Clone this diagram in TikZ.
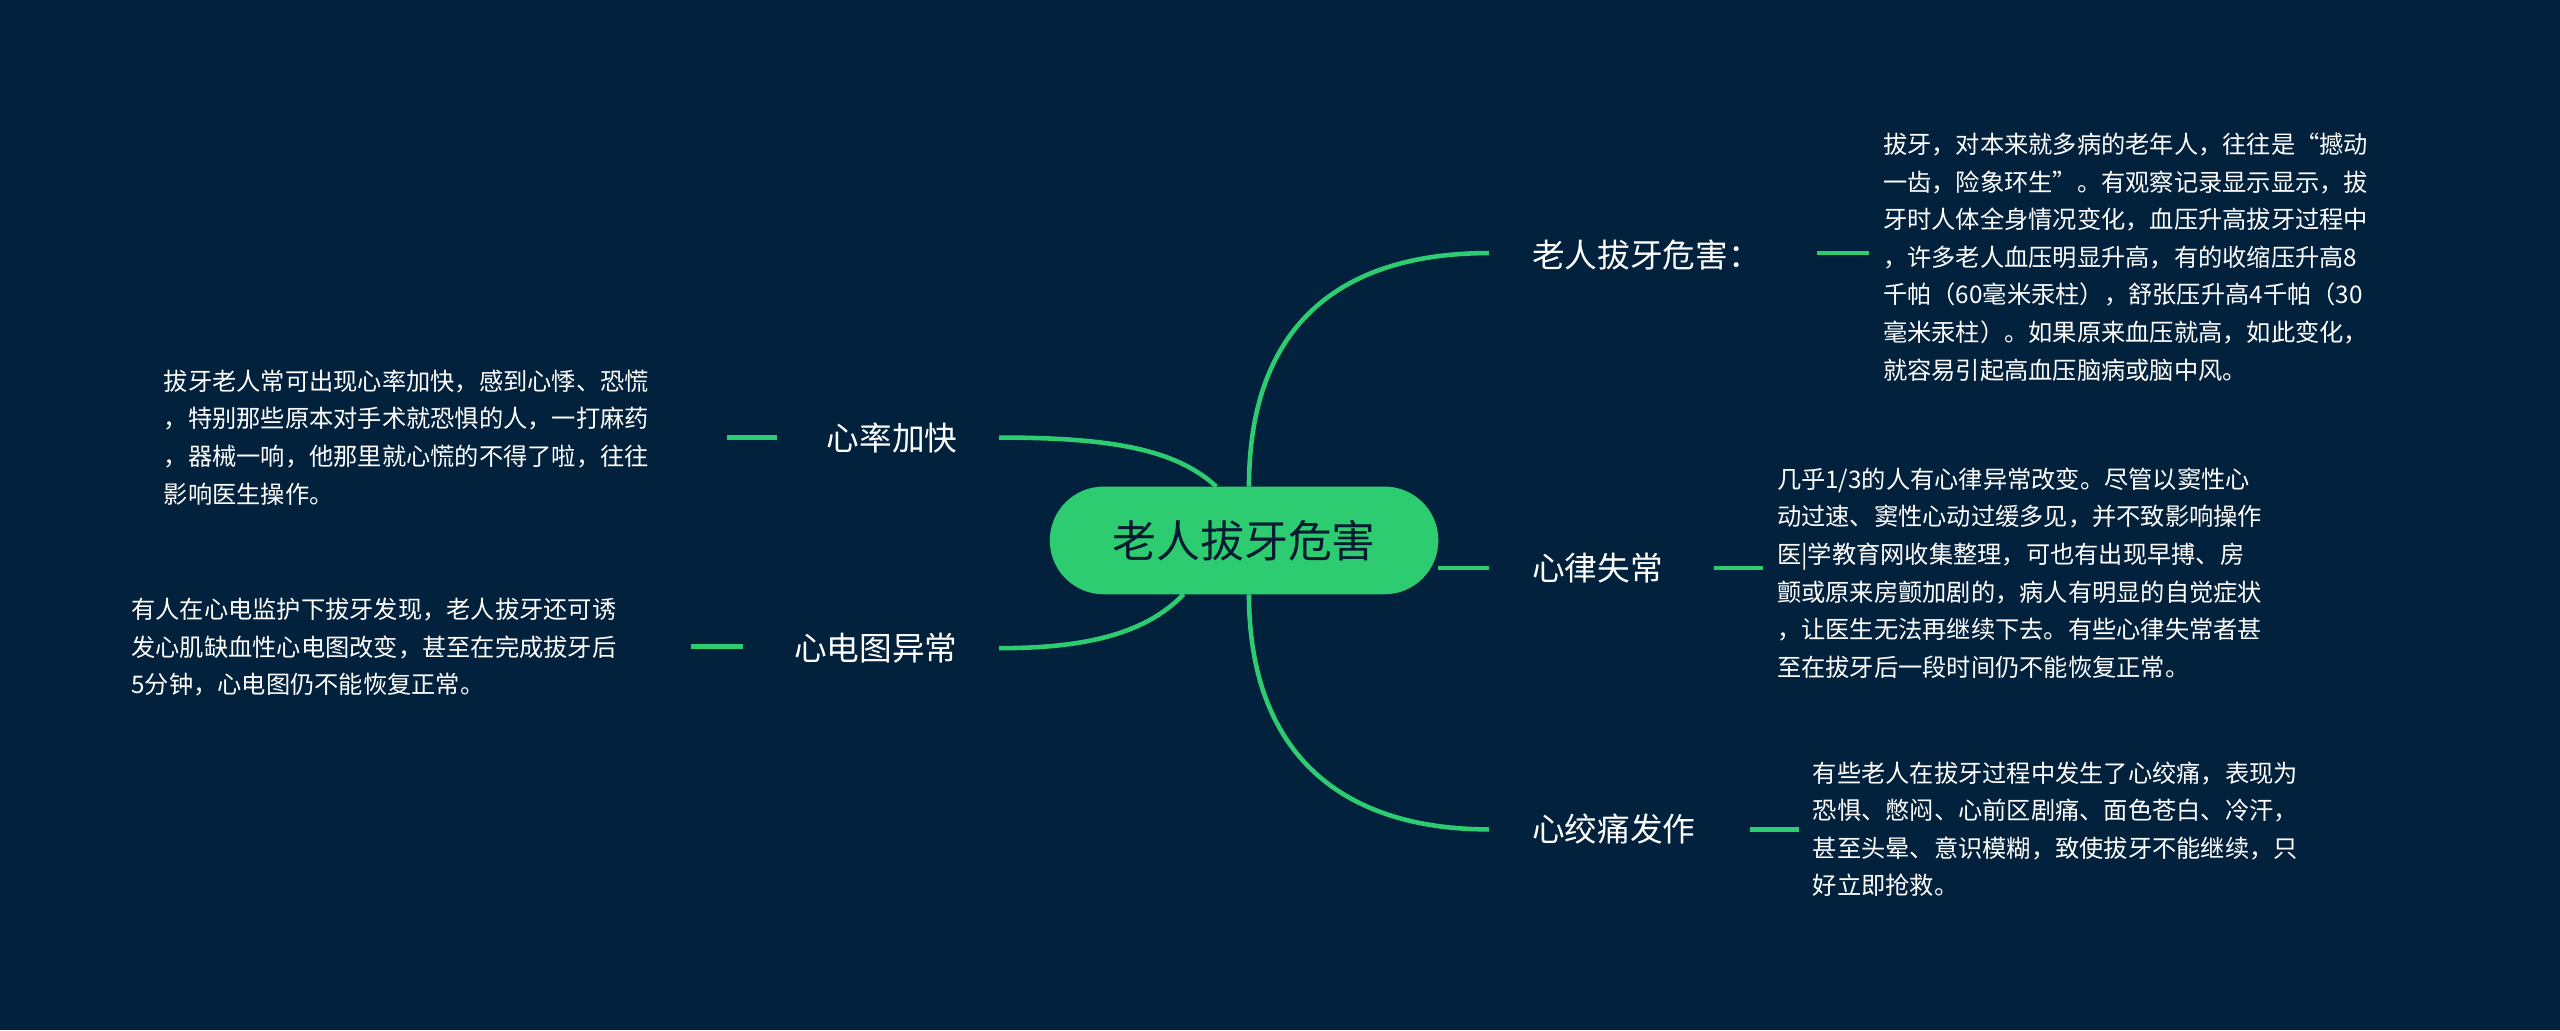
\documentclass[tikz,border=0pt]{standalone}
\usepackage{fontspec}
\setmainfont{Noto Sans CJK SC}
\definecolor{bg}{RGB}{2,33,60}
\definecolor{gr}{RGB}{46,204,113}
\begin{document}
\begin{tikzpicture}[x=0.016327cm,y=-0.016327cm,
  lbl/.style={text=white,font=\fontsize{9.3pt}{11pt}\selectfont,inner sep=0pt},
  det/.style={text=white,font=\fontsize{6.9pt}{10.7pt}\selectfont,inner sep=0pt,align=left,anchor=north west},
  con/.style={draw=gr,line width=1.3pt},
  short/.style={draw=gr,line width=1.3pt}]
\fill[bg] (0,0) rectangle (1568,631);
\useasboundingbox (0,0) rectangle (1568,631);
\node[fill=gr,rounded corners=33*0.016327cm,minimum width=238*0.016327cm,minimum height=66*0.016327cm,inner sep=0pt,
  font=\fontsize{12.5pt}{14pt}\selectfont,text=bg!80!black] (c) at (762,331) {老人拔牙危害};
% right labels
\node[lbl,anchor=west] (r1) at (938,156) {老人拔牙危害：};
\node[lbl,anchor=west] (r2) at (938,348) {心律失常};
\node[lbl,anchor=west] (r3) at (938,508) {心绞痛发作};
\node[lbl,anchor=east] (l1) at (587,268) {心率加快};
\node[lbl,anchor=east] (l2) at (587,397) {心电图异常};
\coordinate (r1a) at (912,155); \coordinate (r2a) at (912,348); \coordinate (r3a) at (912,508);
\coordinate (l1a) at (612,268); \coordinate (l2a) at (612,397);
\draw[con] (765,298) .. controls (765,200) and (820,155) .. (r1a);
\draw[con] (881,348) -- (r2a);
\draw[con] (765,364) .. controls (765,460) and (820,508) .. (r3a);
\draw[con] (745,298) .. controls (720,275) and (680,268) .. (l1a);
\draw[con] (725,364) .. controls (700,390) and (660,397) .. (l2a);
% short lines
\coordinate (s1a) at (1113,155); \coordinate (s1b) at (1145,155);
\draw[short] (s1a) -- (s1b);
\coordinate (s2a) at (1050,348); \coordinate (s2b) at (1080,348);
\draw[short] (s2a) -- (s2b);
\coordinate (s3a) at (1072,508); \coordinate (s3b) at (1102,508);
\draw[short] (s3a) -- (s3b);
\coordinate (s4a) at (445,268); \coordinate (s4b) at (476,268);
\draw[short] (s4a) -- (s4b);
\coordinate (s5a) at (423,396); \coordinate (s5b) at (455,396);
\draw[short] (s5a) -- (s5b);
% details
\node[det] (d1) at (1153,81) {拔牙，对本来就多病的老年人，往往是“撼动\\一齿，险象环生”。有观察记录显示显示，拔\\牙时人体全身情况变化，血压升高拔牙过程中\\，许多老人血压明显升高，有的收缩压升高8\\千帕（60毫米汞柱），舒张压升高4千帕（30\\毫米汞柱）。如果原来血压就高，如此变化，\\就容易引起高血压脑病或脑中风。};
\node[det] (d2) at (1088,286) {几乎1/3的人有心律异常改变。尽管以窦性心\\动过速、窦性心动过缓多见，并不致影响操作\\医|学教育网收集整理，可也有出现早搏、房\\颤或原来房颤加剧的，病人有明显的自觉症状\\，让医生无法再继续下去。有些心律失常者甚\\至在拔牙后一段时间仍不能恢复正常。};
\node[det] (d3) at (1110,466) {有些老人在拔牙过程中发生了心绞痛，表现为\\恐惧、憋闷、心前区剧痛、面色苍白、冷汗，\\甚至头晕、意识模糊，致使拔牙不能继续，只\\好立即抢救。};
\node[det] (d4) at (100,226) {拔牙老人常可出现心率加快，感到心悸、恐慌\\，特别那些原本对手术就恐惧的人，一打麻药\\，器械一响，他那里就心慌的不得了啦，往往\\影响医生操作。};
\node[det] (d5) at (80,366) {有人在心电监护下拔牙发现，老人拔牙还可诱\\发心肌缺血性心电图改变，甚至在完成拔牙后\\5分钟，心电图仍不能恢复正常。};
\end{tikzpicture}
\end{document}
